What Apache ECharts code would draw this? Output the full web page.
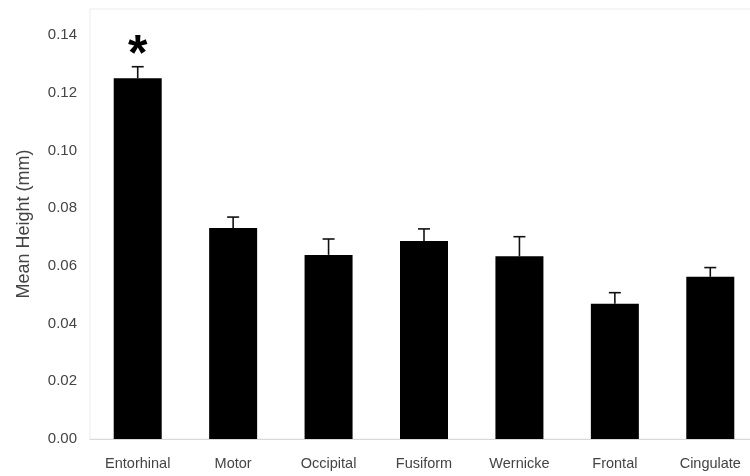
<!DOCTYPE html>
<html>
<head>
<meta charset="utf-8">
<script src="https://cdn.jsdelivr.net/npm/echarts@6/dist/echarts.min.js"></script>
<style>
  html, body { margin: 0; padding: 0; background: #fff; }
  #chart { width: 750px; height: 476px; }
</style>
</head>
<body>
<div id="chart"></div>
<script>
// Cortical regions and their mean heights (mm) with standard errors
const regions = ['Entorhinal', 'Motor', 'Occipital', 'Fusiform', 'Wernicke', 'Frontal', 'Cingulate'];
const meanHeight = [0.125, 0.0731, 0.0638, 0.0686, 0.0633, 0.0469, 0.0562];
const stdError = [0.0040, 0.0038, 0.0055, 0.0042, 0.0068, 0.0038, 0.0032];
const significance = ['*', '', '', '', '', '', ''];
const yTicks = [0, 0.02, 0.04, 0.06, 0.08, 0.10, 0.12, 0.14];

const chart = echarts.init(document.getElementById('chart'), null, { renderer: 'canvas' });

const textColor = '#444';
const font = '"Liberation Sans", Arial, sans-serif';

chart.setOption({
  animation: false,
  backgroundColor: '#fff',
  grid: {
    left: 90, top: 9, width: 668, height: 430,
    outerBoundsMode: 'none',
    containLabel: false,
    show: true, borderColor: '#ececec', borderWidth: 1, backgroundColor: 'transparent'
  },
  xAxis: {
    type: 'category',
    data: regions,
    axisLine: { show: true, lineStyle: { color: '#d8d8d8', width: 1 } },
    axisTick: { show: false },
    axisLabel: { color: textColor, fontFamily: font, fontSize: 14.5, margin: 17 }
  },
  yAxis: {
    type: 'value',
    min: 0,
    max: 0.149,
    interval: 0.02,
    name: 'Mean Height (mm)',
    nameLocation: 'middle',
    nameGap: 57,
    nameTextStyle: { color: textColor, fontFamily: font, fontSize: 18 },
    axisLine: { show: false },
    axisTick: { show: false },
    splitLine: { show: false },
    axisLabel: {
      color: textColor, fontFamily: font, fontSize: 15, margin: 13,
      showMaxLabel: false,
      formatter: v => (yTicks.some(t => Math.abs(t - v) < 1e-9) ? v.toFixed(2) : '')
    }
  },
  series: [
    {
      type: 'bar',
      data: meanHeight,
      barWidth: 48,
      itemStyle: { color: '#000' },
      z: 2
    },
    {
      // upper error whisker with cap, plus significance marker
      type: 'custom',
      z: 3,
      data: meanHeight.map((m, i) => [i, m, m + stdError[i]]),
      renderItem: (params, api) => {
        const i = api.value(0);
        const base = api.coord([i, api.value(1)]);
        const top = api.coord([i, api.value(2)]);
        const half = 6;
        const style = { stroke: '#111', lineWidth: 1.6 };
        const children = [
          { type: 'line', shape: { x1: base[0], y1: base[1], x2: top[0], y2: top[1] }, style },
          { type: 'line', shape: { x1: top[0] - half, y1: top[1], x2: top[0] + half, y2: top[1] }, style }
        ];
        if (significance[i]) {
          children.push({
            type: 'text',
            style: {
              text: significance[i], x: top[0], y: top[1] - 10,
              fill: '#000', font: 'bold 50px ' + font,
              textAlign: 'center', textVerticalAlign: 'middle'
            }
          });
        }
        return { type: 'group', children };
      }
    }
  ]
});
</script>
</body>
</html>
